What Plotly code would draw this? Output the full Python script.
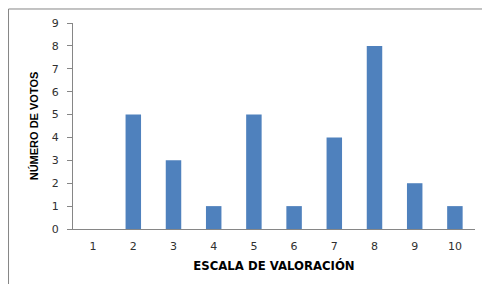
import plotly.graph_objects as go

categories = ["1", "2", "3", "4", "5", "6", "7", "8", "9", "10"]
votes = [0, 5, 3, 1, 5, 1, 4, 8, 2, 1]
y_ticks = [0, 1, 2, 3, 4, 5, 6, 7, 8, 9]

fig = go.Figure(go.Bar(x=categories, y=votes, marker=dict(color="#4F81BD", line=dict(width=0))))

tick_font = dict(family="DejaVu Sans, Verdana, sans-serif", size=11, color="#303030")

fig.update_layout(
    width=482, height=276,
    margin=dict(l=65, r=15, t=15, b=55, autoexpand=False),
    paper_bgcolor="white", plot_bgcolor="white",
    bargap=0.615,
    showlegend=False,
    xaxis=dict(
        type="category", automargin=False,
        showline=True, linecolor="#868686", linewidth=1,
        ticks="", showgrid=False,
        tickfont=tick_font, ticklabelstandoff=7,
        title=dict(text="<b>ESCALA DE VALORACIÓN</b>",
                   font=dict(family="DejaVu Sans, Verdana, sans-serif", size=11.7, color="#000000"),
                   standoff=9),
    ),
    yaxis=dict(
        range=[0, 9], tickvals=y_ticks, automargin=False,
        showline=True, linecolor="#868686", linewidth=1,
        ticks="outside", ticklen=5, tickcolor="#868686",
        showgrid=False, zeroline=False,
        tickfont=tick_font, ticklabelstandoff=6,
        title=dict(text="<b>NÚMERO DE VOTOS</b>",
                   font=dict(family="Liberation Sans, Arial, sans-serif", size=11, color="#000000"),
                   standoff=10),
    ),
    shapes=[
        dict(type="line", xref="paper", yref="paper", x0=-0.1604, x1=1.2, y0=1.068, y1=1.068,
             line=dict(color="#868686", width=1)),
        dict(type="line", xref="paper", yref="paper", x0=-0.1604, x1=-0.1604, y0=1.068, y1=-0.4,
             line=dict(color="#868686", width=1)),
    ],
)

fig.write_html("out.html")
